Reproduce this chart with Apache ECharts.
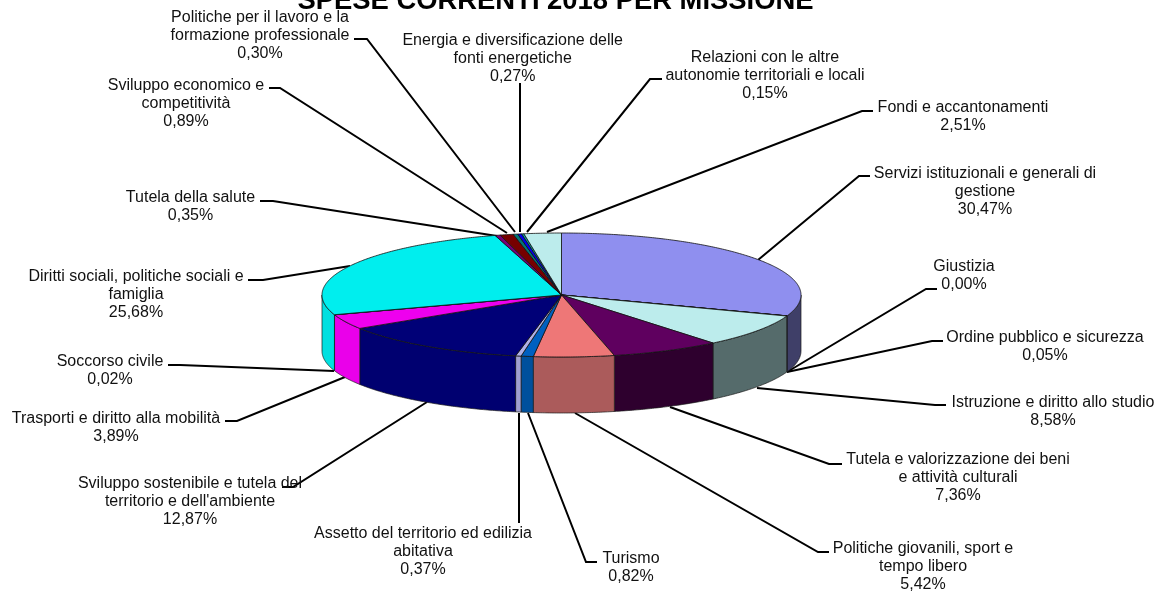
<!DOCTYPE html>
<html>
<head>
<meta charset="utf-8">
<title>Spese correnti 2018 per missione</title>
<script src="https://cdn.jsdelivr.net/npm/echarts@6/dist/echarts.min.js"></script>
<style>
html, body { margin: 0; padding: 0; background: #fff; }
#main { width: 1163px; height: 595px; }
</style>
</head>
<body>
<div id="main"></div>
<script>
const missioni = [
  "Servizi istituzionali e generali di\ngestione",
  "Giustizia",
  "Ordine pubblico e sicurezza",
  "Istruzione e diritto allo studio",
  "Tutela e valorizzazione dei beni\ne attività culturali",
  "Politiche giovanili, sport e\ntempo libero",
  "Turismo",
  "Assetto del territorio ed edilizia\nabitativa",
  "Sviluppo sostenibile e tutela del\nterritorio e dell'ambiente",
  "Trasporti e diritto alla mobilità",
  "Soccorso civile",
  "Diritti sociali, politiche sociali e\nfamiglia",
  "Tutela della salute",
  "Sviluppo economico e\ncompetitività",
  "Politiche per il lavoro e la\nformazione professionale",
  "Energia e diversificazione delle\nfonti energetiche",
  "Relazioni con le altre\nautonomie territoriali e locali",
  "Fondi e accantonamenti"
];
const percentuali = [30.47, 0.00, 0.05, 8.58, 7.36, 5.42, 0.82, 0.37, 12.87, 3.89, 0.02, 25.68, 0.35, 0.89, 0.30, 0.27, 0.15, 2.51];

const topColors = ["#8f8fef", "#7a3b5c", "#e8e8c0", "#bcecec", "#5f005f", "#ee7777", "#0060c0", "#b0b0e6", "#000077", "#ee00ee", "#bbbbbb", "#00eeee", "#770077", "#770000", "#007777", "#0000ee", "#00aaaa", "#bcecec"];
const sideColors = ["#3f3f68", "#3a1c2c", "#686850", "#556b6b", "#2e002e", "#ab5b5b", "#00509c", "#a0a0d0", "#000070", "#ea00ea", "#bbbbbb", "#00e0e0", "#770077", "#770000", "#007777", "#0000ee", "#00aaaa", "#bcecec"];

// centro e raggi dell'ellisse, altezza del bordo
const cx = 561.5, cy = 295, rx = 239.5, ry = 62, depth = 56;

// posizione delle etichette e linee di richiamo, stesso ordine di missioni
const labelX = [985, 964, 1045, 1053, 958, 923, 631, 423, 190, 116, 110, 136, 190.5, 186, 260, 512.7, 765, 963];
const labelY = [164, 257.5, 328, 393, 450, 539, 549, 524, 474, 409, 352, 267, 188, 76, 8, 31, 48, 98];
const leaders = [
  [[758, 260], [859, 176], [870, 176]],
  [[787, 372], [926, 289], [937, 289]],
  [[787, 372], [932, 341], [943, 341]],
  [[757, 388], [935, 405], [946, 405]],
  [[670, 407], [829, 464], [842, 464]],
  [[575, 413], [818, 552], [829, 552]],
  [[528, 413], [586, 562], [597, 562]],
  [[519, 413], [519, 523]],
  [[427, 402], [293, 487], [282, 487]],
  [[345, 377], [237, 421], [225, 421]],
  [[334, 371], [180, 365], [168, 365]],
  [[350, 266], [263, 280], [248, 280]],
  [[497, 236], [273, 201], [260, 201]],
  [[507, 233], [280, 88], [269, 88]],
  [[515, 232], [367, 39], [354, 39]],
  [[520, 232], [520, 83]],
  [[527, 232], [650, 79], [662, 79]],
  [[547, 232], [862, 111], [873, 111]]
];

const total = percentuali.reduce((a, b) => a + b, 0);
const startAngles = [];
percentuali.reduce((acc, v, i) => { startAngles[i] = acc / total * Math.PI * 2; return acc + v; }, 0);

function pt(a, dy) {
  return [cx + rx * Math.sin(a), cy - ry * Math.cos(a) + (dy || 0)];
}
function arc(a0, a1, dy) {
  const n = Math.max(2, Math.ceil((a1 - a0) / 0.01));
  const out = [];
  for (let i = 0; i <= n; i++) out.push(pt(a0 + (a1 - a0) * i / n, dy));
  return out;
}

function renderSide(params, api) {
  const i = api.value(1);
  const a0 = Math.max(startAngles[i], Math.PI / 2);
  const a1 = Math.min(startAngles[i] + api.value(0) / total * Math.PI * 2, Math.PI * 1.5);
  if (a1 <= a0) return null;
  const points = arc(a0, a1, 0).concat(arc(a0, a1, depth).reverse());
  return {
    type: "polygon",
    shape: { points: points },
    style: { fill: sideColors[i], stroke: "#1a1a1a", lineWidth: 0.7 }
  };
}

function renderTop(params, api) {
  const i = api.value(1);
  const a0 = startAngles[i];
  const a1 = a0 + api.value(0) / total * Math.PI * 2;
  const points = [[cx, cy]].concat(arc(a0, a1, 0));
  return {
    type: "polygon",
    shape: { points: points },
    style: { fill: topColors[i], stroke: "#111", lineWidth: 0.8 }
  };
}

function renderLabel(params, api) {
  const i = api.value(1);
  const txt = missioni[i] + "\n" + api.value(0).toFixed(2).replace(".", ",") + "%";
  return {
    type: "group",
    children: [
      {
        type: "polyline",
        shape: { points: leaders[i] },
        style: { fill: null, stroke: "#000", lineWidth: 2 }
      },
      {
        type: "text",
        x: labelX[i],
        y: labelY[i],
        style: {
          text: txt,
          fill: "#111",
          font: "16px 'Liberation Sans', Arial, sans-serif",
          align: "center",
          verticalAlign: "top",
          lineHeight: 18.3
        }
      }
    ]
  };
}

const seriesData = percentuali.map((v, i) => [v, i]);
const myChart = echarts.init(document.getElementById("main"), null, { renderer: "canvas" });
myChart.setOption({
  animation: false,
  backgroundColor: "#fff",
  title: {
    text: "SPESE CORRENTI 2018 PER MISSIONE",
    left: 550.5,
    top: -17,
    textAlign: "center",
    textStyle: { fontFamily: "'Liberation Sans', Arial, sans-serif", fontWeight: "bold", fontSize: 27.4, color: "#000" }
  },
  series: [
    { type: "custom", coordinateSystem: "none", silent: true, renderItem: renderLabel, data: seriesData, z: 3 },
    { type: "custom", coordinateSystem: "none", silent: true, renderItem: renderSide, data: seriesData, z: 4 },
    { type: "custom", coordinateSystem: "none", silent: true, renderItem: renderTop, data: seriesData, z: 5 }
  ]
});
</script>
</body>
</html>
